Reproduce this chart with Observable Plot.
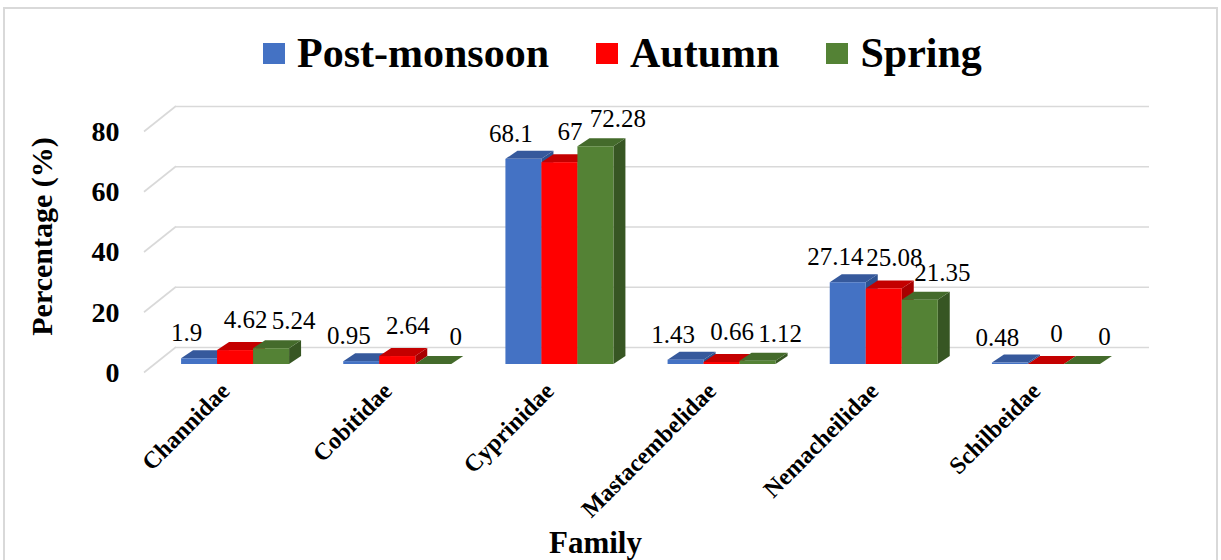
<!DOCTYPE html>
<html>
<head>
<meta charset="utf-8">
<script src="https://cdn.jsdelivr.net/npm/d3@7"></script>
<script src="https://cdn.jsdelivr.net/npm/@observablehq/plot@0.6"></script>
<style>
html, body { margin: 0; padding: 0; background: #fff; width: 1221px; height: 560px; overflow: hidden;
  font-family: "Liberation Serif", "Times New Roman", "DejaVu Serif", serif; }
#frame { position: absolute; left: 3px; top: 7px; width: 1215px; height: 620px; border: 2px solid #d9d9d9; box-sizing: border-box; }
#legend { position: absolute; left: 263px; top: 32px; display: flex; align-items: center; font-weight: bold;
  font-family: "Liberation Serif", "Times New Roman", serif;
  font-size: 42px; line-height: 42px; white-space: nowrap; color: #000; }
#legend .item { display: flex; align-items: center; margin-right: 47px; }
#legend .sw { width: 22px; height: 21px; margin-right: 12px; }
#chart { position: absolute; left: 0; top: 95px; }
</style>
</head>
<body>
<div id="frame"></div>
<div id="legend"></div>
<div id="chart"></div>
<script>
// ---- data ----
const families = ["Channidae", "Cobitidae", "Cyprinidae", "Mastacembelidae", "Nemacheilidae", "Schilbeidae"];
const seasons = ["Post-monsoon", "Autumn", "Spring"];
const postMonsoon = [1.9, 0.95, 68.1, 1.43, 27.14, 0.48];
const autumn = [4.62, 2.64, 67, 0.66, 25.08, 0];
const spring = [5.24, 0, 72.28, 1.12, 21.35, 0];
const yTicks = [0, 20, 40, 60, 80];

// ---- styles ----
const frontColors = ["#4472C4", "#FF0000", "#548235"];
const topColors = ["#36599C", "#C40000", "#446B2B"];
const sideColors = ["#2E5290", "#A80000", "#375623"];
const GRID = "#d9d9d9";
const SERIF = '"Liberation Serif", "Times New Roman", serif';

const seriesValues = [postMonsoon, autumn, spring];
const table = [];
seasons.forEach((s, si) => families.forEach((f, fi) => table.push({family: f, season: s, si, value: seriesValues[si][fi]})));

// ---- geometry ----
const W = 1221, H = 465;
const mL = 144, mR = 104, mT = 36.5, mB = 187.5;
const BW = (W - mL - mR) / families.length;
const BAR_W = 36, SHIFT = 10, BAR_DY = -8.5;
const DEPTH_DX = 12, DEPTH_DY = -8;
const WALL_DX = 32, WALL_DY = -25.5;
const offset = (si) => BW / 2 + SHIFT - 1.5 * BAR_W + BAR_W * si;
const labelDx = [-39, 20, 68];
const labelDy = [-26, -31, -28];

// legend
const legend = document.getElementById("legend");
seasons.forEach((s, i) => {
  const it = document.createElement("div");
  it.className = "item";
  const sw = document.createElement("div");
  sw.className = "sw";
  sw.style.background = frontColors[i];
  const tx = document.createElement("span");
  tx.textContent = s;
  it.appendChild(sw); it.appendChild(tx);
  legend.appendChild(it);
});

function wallLines(index, scales, values, dims) {
  const g = d3.create("svg:g");
  const y = scales.y;
  for (const t of yTicks) {
    g.append("line")
      .attr("x1", dims.marginLeft).attr("y1", y(t))
      .attr("x2", dims.marginLeft + WALL_DX).attr("y2", y(t) + WALL_DY)
      .attr("stroke", GRID).attr("stroke-width", 1.6);
  }
  return g.node();
}

function faces(index, scales) {
  const g = d3.create("svg:g");
  const x = scales.x, y = scales.y;
  const order = [];
  families.forEach(f => [0, 1, 2].forEach(si => order.push(table.find(d => d.family === f && d.si === si))));
  for (const d of order) {
    const x0 = x(d.family) + offset(d.si), x1 = x0 + BAR_W;
    const yt = y(d.value) + BAR_DY, yb = y(0) + BAR_DY;
    g.append("polygon")
      .attr("points", `${x1},${yt} ${x1 + DEPTH_DX},${yt + DEPTH_DY} ${x1 + DEPTH_DX},${yb + DEPTH_DY} ${x1},${yb}`)
      .attr("fill", sideColors[d.si]);
    g.append("polygon")
      .attr("points", `${x0},${yt} ${x1},${yt} ${x1 + DEPTH_DX},${yt + DEPTH_DY} ${x0 + DEPTH_DX},${yt + DEPTH_DY}`)
      .attr("fill", topColors[d.si]);
  }
  return g.node();
}

const marks = [
  Plot.ruleY(yTicks, {y: d => d, dx: WALL_DX, dy: WALL_DY, stroke: GRID, strokeWidth: 1.6}),
  wallLines,
  faces
];
[0, 1, 2].forEach(si => {
  marks.push(Plot.barY(table.filter(d => d.si === si), {
    x: "family", y: "value", fill: frontColors[si],
    insetLeft: offset(si), insetRight: BW - offset(si) - BAR_W, dy: BAR_DY
  }));
});
[0, 1, 2].forEach(si => {
  marks.push(Plot.text(table.filter(d => d.si === si), {
    x: "family", y: "value", text: d => String(d.value),
    dx: labelDx[si], dy: labelDy[si], lineAnchor: "bottom",
    fontSize: 25, fill: "#000", fontFamily: SERIF
  }));
});
marks.push(
  Plot.axisY(yTicks, {tickSize: 0, tickPadding: 25, fontSize: 28, fontWeight: "bold", label: null, fill: "#000", fontFamily: SERIF}),
  Plot.axisX({tickSize: 0, tickPadding: 14, tickRotate: -45, fontSize: 24, fontWeight: "bold", label: null, dx: 0, fill: "#000", fontFamily: SERIF}),
  Plot.text(["Percentage (%)"], {frameAnchor: "left", textAnchor: "middle", dx: -102, dy: -16, rotate: -90, fontSize: 30, fontWeight: "bold", fill: "#000", fontFamily: SERIF}),
  Plot.text(["Family"], {frameAnchor: "bottom", textAnchor: "middle", dx: -35.5, dy: 179.5, lineAnchor: "bottom", fontSize: 31, fontWeight: "bold", fill: "#000", fontFamily: SERIF})
);

const chart = Plot.plot({
  width: W, height: H,
  marginLeft: mL, marginRight: mR, marginTop: mT, marginBottom: mB,
  style: {fontFamily: SERIF, background: "transparent", overflow: "visible"},
  x: {domain: families, padding: 0, round: false, label: null},
  y: {domain: [0, 80], label: null},
  marks
});
document.getElementById("chart").appendChild(chart);
</script>
</body>
</html>
